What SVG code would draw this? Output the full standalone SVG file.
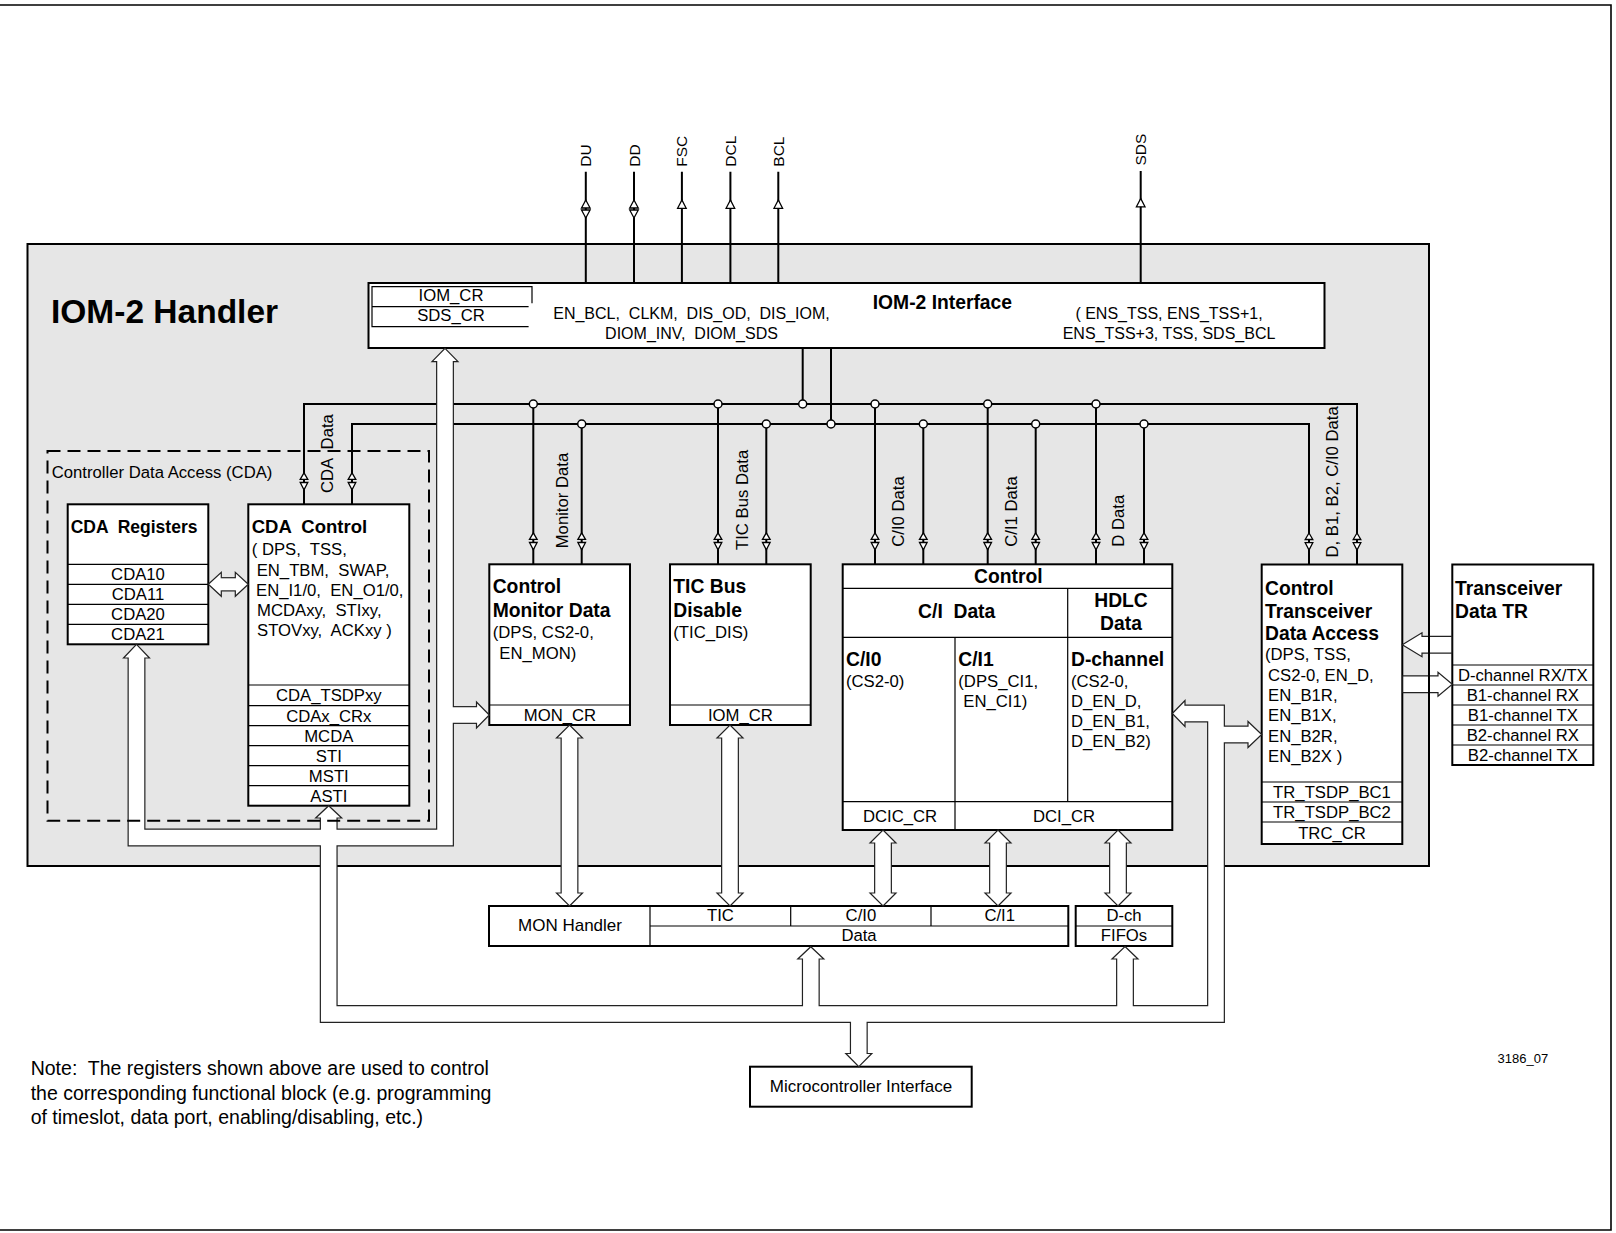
<svg xmlns="http://www.w3.org/2000/svg" width="1616" height="1233" viewBox="0 0 1616 1233" xml:space="preserve">
<defs>
<style>
.t{font-family:"Liberation Sans",Arial,Helvetica,sans-serif;font-size:16.7px;fill:#000;white-space:pre}
.b{font-weight:bold;font-size:19.3px}
.m{text-anchor:middle}
.s16{font-size:16px}
.sig{font-size:15.5px}
.box{fill:#fff;stroke:#000;stroke-width:2}
.thin{fill:none;stroke:#000;stroke-width:1.2}
.ln{fill:none;stroke:#000;stroke-width:2}
.dot{fill:#fff;stroke:#000;stroke-width:1.5}
.ah{fill:#fff;stroke:#000;stroke-width:1.3}
.busd{fill:none;stroke:#222;stroke-width:17.9;stroke-linejoin:miter;stroke-linecap:butt}
.busw{fill:none;stroke:#fff;stroke-width:15.5;stroke-linejoin:miter;stroke-linecap:butt}
.bh{fill:#fff;stroke:#222;stroke-width:1.2;stroke-linejoin:miter}
</style>
<g id="dbl"><polygon class="ah" points="0,-31.5 -3.8,-25 3.8,-25"/><polygon class="ah" points="-3.8,-21.8 3.8,-21.8 0,-14.5"/></g>
<g id="sdbl"><polygon class="ah" points="0,0 -4.3,8 4.3,8"/><polygon class="ah" points="-4.3,10 4.3,10 0,18"/></g>
<polygon id="sup" class="ah" points="0,0 -4.3,8.3 4.3,8.3"/>
</defs>

<g id="page-frame" class="ln" style="stroke-width:1.6">
<path d="M0,5 H1611 V1230 H0"/>
</g>

<g id="iom2-handler">
<rect x="27.5" y="244" width="1401.5" height="622" fill="#e6e6e6" stroke="#000" stroke-width="2"/>
<text class="t b" x="51" y="322.7" style="font-size:33.5px">IOM-2 Handler</text>
<text class="t" x="51.7" y="478.3">Controller Data Access (CDA)</text>
</g>

<g id="iom2-interface">
<rect class="box" x="368.5" y="283" width="956" height="65"/>
<path class="thin" d="M532,303.3 V286.7 H372 V326.7 H528.6 M372,306.7 H528.6"/>
<text class="t m" x="451" y="301">IOM_CR</text>
<text class="t m" x="451" y="321">SDS_CR</text>
<text class="t m s16" x="691.5" y="319.3">EN_BCL,  CLKM,  DIS_OD,  DIS_IOM,</text>
<text class="t m s16" x="691.5" y="339">DIOM_INV,  DIOM_SDS</text>
<text class="t b m" x="942.4" y="309.3">IOM-2 Interface</text>
<text class="t m s16" x="1169" y="319.3">( ENS_TSS, ENS_TSS+1,</text>
<text class="t m s16" x="1169" y="339">ENS_TSS+3, TSS, SDS_BCL</text>
</g>

<g id="cda-registers">
<rect class="box" x="67.7" y="504.3" width="140.6" height="140"/>
<path class="thin" d="M67.7,564.3 H208.3 M67.7,584.3 H208.3 M67.7,604.3 H208.3 M67.7,624.3 H208.3"/>
<text class="t b" x="70.7" y="533.3" style="font-size:17.5px">CDA  Registers</text>
<text class="t m" x="138" y="580.3">CDA10</text>
<text class="t m" x="138" y="600.3">CDA11</text>
<text class="t m" x="138" y="620.3">CDA20</text>
<text class="t m" x="138" y="640.3">CDA21</text>
</g>

<g id="cda-control">
<rect class="box" x="248.3" y="504.3" width="161" height="301.4"/>
<path class="thin" d="M248.3,685 H409.3 M248.3,705.7 H409.3 M248.3,725.7 H409.3 M248.3,745.7 H409.3 M248.3,765.7 H409.3 M248.3,785.7 H409.3"/>
<text class="t b" x="251.7" y="533.3" style="font-size:18.5px">CDA  Control</text>
<text class="t" x="251.7" y="555">( DPS,  TSS,</text>
<text class="t" x="256.7" y="575.7">EN_TBM,  SWAP,</text>
<text class="t" x="256" y="595.7">EN_I1/0,  EN_O1/0,</text>
<text class="t" x="257" y="615.7">MCDAxy,  STIxy,</text>
<text class="t" x="257" y="635.7">STOVxy,  ACKxy )</text>
<text class="t m" x="328.8" y="701">CDA_TSDPxy</text>
<text class="t m" x="328.8" y="721.7">CDAx_CRx</text>
<text class="t m" x="328.8" y="741.7">MCDA</text>
<text class="t m" x="328.8" y="761.7">STI</text>
<text class="t m" x="328.8" y="781.7">MSTI</text>
<text class="t m" x="328.8" y="801.7">ASTI</text>
</g>

<g id="control-monitor-data">
<rect class="box" x="489.3" y="564.3" width="140.7" height="160.7"/>
<path class="thin" d="M489.3,705 H630"/>
<text class="t b" x="492.7" y="593.3">Control</text>
<text class="t b" x="492.7" y="616.7">Monitor Data</text>
<text class="t" x="492.7" y="638.3">(DPS, CS2-0,</text>
<text class="t" x="499.3" y="659">EN_MON)</text>
<text class="t m" x="560" y="721">MON_CR</text>
</g>

<g id="tic-bus-disable">
<rect class="box" x="670" y="564.3" width="140.7" height="160.7"/>
<path class="thin" d="M670,705 H810.7"/>
<text class="t b" x="673.3" y="593.3">TIC Bus</text>
<text class="t b" x="673.3" y="616.7">Disable</text>
<text class="t" x="673.3" y="638.3">(TIC_DIS)</text>
<text class="t m" x="740.4" y="721">IOM_CR</text>
</g>

<g id="control-ci-hdlc">
<rect class="box" x="842.7" y="564.3" width="329.6" height="265.7"/>
<path class="thin" d="M842.7,588.3 H1172.3 M842.7,637.3 H1172.3 M1067.7,588.3 V801.7 M955,637.3 V830 M842.7,801.7 H1172.3"/>
<text class="t b m" x="1008.3" y="582.7">Control</text>
<text class="t b m" x="956.7" y="618.3">C/I  Data</text>
<text class="t b m" x="1121" y="606.7">HDLC</text>
<text class="t b m" x="1121" y="630">Data</text>
<text class="t b" x="846" y="665.7">C/I0</text>
<text class="t" x="846" y="687.3">(CS2-0)</text>
<text class="t b" x="958.3" y="665.7">C/I1</text>
<text class="t" x="958.3" y="687.3">(DPS_CI1,</text>
<text class="t" x="963.3" y="707.3">EN_CI1)</text>
<text class="t b" x="1071" y="665.7">D-channel</text>
<text class="t" x="1071" y="687.3">(CS2-0,</text>
<text class="t" x="1071" y="707.3">D_EN_D,</text>
<text class="t" x="1071" y="727.3">D_EN_B1,</text>
<text class="t" x="1071" y="747.3">D_EN_B2)</text>
<text class="t m" x="900" y="821.7">DCIC_CR</text>
<text class="t m" x="1064" y="821.7">DCI_CR</text>
</g>

<g id="control-transceiver-data-access">
<rect class="box" x="1261.7" y="564.5" width="140.6" height="279.5"/>
<path class="thin" d="M1261.7,782 H1402.3 M1261.7,802 H1402.3 M1261.7,822 H1402.3"/>
<text class="t b" x="1265" y="595">Control</text>
<text class="t b" x="1265" y="617.5">Transceiver</text>
<text class="t b" x="1265" y="640">Data Access</text>
<text class="t" x="1265" y="660">(DPS, TSS,</text>
<text class="t" x="1268" y="680.5">CS2-0, EN_D,</text>
<text class="t" x="1268" y="700.5">EN_B1R,</text>
<text class="t" x="1268" y="721">EN_B1X,</text>
<text class="t" x="1268" y="741.5">EN_B2R,</text>
<text class="t" x="1268" y="762">EN_B2X )</text>
<text class="t m" x="1332" y="798">TR_TSDP_BC1</text>
<text class="t m" x="1332" y="818">TR_TSDP_BC2</text>
<text class="t m" x="1332" y="838.5">TRC_CR</text>
</g>

<g id="transceiver-data-tr">
<rect class="box" x="1452.3" y="564.5" width="141" height="200.5"/>
<path class="thin" d="M1452.3,665 H1593.3 M1452.3,685 H1593.3 M1452.3,705 H1593.3 M1452.3,725 H1593.3 M1452.3,745 H1593.3"/>
<text class="t b" x="1455" y="595">Transceiver</text>
<text class="t b" x="1455" y="617.5">Data TR</text>
<text class="t m" x="1522.8" y="681">D-channel RX/TX</text>
<text class="t m" x="1522.8" y="701">B1-channel RX</text>
<text class="t m" x="1522.8" y="721">B1-channel TX</text>
<text class="t m" x="1522.8" y="741">B2-channel RX</text>
<text class="t m" x="1522.8" y="761">B2-channel TX</text>
</g>

<g id="mon-handler-data">
<rect class="box" x="489" y="906" width="579.3" height="40"/>
<path class="thin" d="M650,906 V946 M650,926 H1068.3 M790.7,906 V926 M931,906 V926"/>
<text class="t m" x="570" y="931" style="font-size:17px">MON Handler</text>
<text class="t m" x="720.4" y="920.5">TIC</text>
<text class="t m" x="860.9" y="920.5">C/I0</text>
<text class="t m" x="999.7" y="920.5">C/I1</text>
<text class="t m" x="859" y="940.5">Data</text>
</g>

<g id="dch-fifos">
<rect class="box" x="1075.7" y="906" width="96.6" height="40"/>
<path class="thin" d="M1075.7,926 H1172.3"/>
<text class="t m" x="1124" y="920.5">D-ch</text>
<text class="t m" x="1124" y="940.5">FIFOs</text>
</g>

<g id="microcontroller-interface">
<rect class="box" x="750" y="1066.7" width="221.7" height="40"/>
<text class="t m" x="861" y="1092" style="font-size:17px">Microcontroller Interface</text>
</g>

<g id="connectors">
<g id="signal-pins">
<path class="ln" d="M585.8,171.7 V283 M634,171.7 V283 M681.9,171.7 V283 M730.4,171.7 V283 M778.3,171.7 V283 M1140.7,171 V283"/>
<use href="#sdbl" x="585.8" y="200"/>
<use href="#sdbl" x="634" y="200"/>
<use href="#sup" x="681.9" y="200"/>
<use href="#sup" x="730.4" y="200"/>
<use href="#sup" x="778.3" y="200"/>
<use href="#sup" x="1140.7" y="198.5"/>
<text class="t sig" transform="translate(591.3,166.7) rotate(-90)">DU</text>
<text class="t sig" transform="translate(639.5,166.7) rotate(-90)">DD</text>
<text class="t sig" transform="translate(687.4,166.7) rotate(-90)">FSC</text>
<text class="t sig" transform="translate(735.9,166.7) rotate(-90)">DCL</text>
<text class="t sig" transform="translate(783.8,166.7) rotate(-90)">BCL</text>
<text class="t sig" transform="translate(1146.2,165.5) rotate(-90)">SDS</text>
</g>
<g id="internal-bus">
<path class="ln" d="M304,504.3 V404 H1357 V564.3 M352,504.3 V424 H1309 V564.3 M802.7,348 V404 M831,348 V424"/>
<path class="ln" d="M533.3,404 V564.3 M581.7,424 V564.3 M718,404 V564.3 M766.3,424 V564.3 M875,404 V564.3 M923.3,424 V564.3 M987.7,404 V564.3 M1035.7,424 V564.3 M1096,404 V564.3 M1144,424 V564.3"/>
<circle class="dot" cx="533.3" cy="404" r="4"/>
<circle class="dot" cx="718" cy="404" r="4"/>
<circle class="dot" cx="802.7" cy="404" r="4"/>
<circle class="dot" cx="875" cy="404" r="4"/>
<circle class="dot" cx="987.7" cy="404" r="4"/>
<circle class="dot" cx="1096" cy="404" r="4"/>
<circle class="dot" cx="581.7" cy="424" r="4"/>
<circle class="dot" cx="766.3" cy="424" r="4"/>
<circle class="dot" cx="831" cy="424" r="4"/>
<circle class="dot" cx="923.3" cy="424" r="4"/>
<circle class="dot" cx="1035.7" cy="424" r="4"/>
<circle class="dot" cx="1144" cy="424" r="4"/>
<use href="#dbl" x="304" y="504.3"/>
<use href="#dbl" x="352" y="504.3"/>
<use href="#dbl" x="533.3" y="564.3"/>
<use href="#dbl" x="581.7" y="564.3"/>
<use href="#dbl" x="718" y="564.3"/>
<use href="#dbl" x="766.3" y="564.3"/>
<use href="#dbl" x="875" y="564.3"/>
<use href="#dbl" x="923.3" y="564.3"/>
<use href="#dbl" x="987.7" y="564.3"/>
<use href="#dbl" x="1035.7" y="564.3"/>
<use href="#dbl" x="1096" y="564.3"/>
<use href="#dbl" x="1144" y="564.3"/>
<use href="#dbl" x="1309" y="564.5"/>
<use href="#dbl" x="1357" y="564.5"/>
<text class="t" transform="translate(333,493) rotate(-90)">CDA  Data</text>
<text class="t" transform="translate(567.5,548.3) rotate(-90)">Monitor Data</text>
<text class="t" transform="translate(747.5,550) rotate(-90)">TIC Bus Data</text>
<text class="t" transform="translate(904,546.7) rotate(-90)">C/I0 Data</text>
<text class="t" transform="translate(1016.5,546.7) rotate(-90)">C/I1 Data</text>
<text class="t" transform="translate(1124,546.7) rotate(-90)">D Data</text>
<text class="t" transform="translate(1337.5,557.5) rotate(-90)">D, B1, B2, C/I0 Data</text>
</g>
<g id="data-buses">
<path class="busd" d="M136.5,658 V837.5 H445 V361.7"/>
<path class="busd" d="M445,715 H476.5"/>
<path class="busd" d="M1185,713.5 H1216 V1014 H328.7 V818"/>
<path class="busd" d="M810.8,1014 V959 M1125,1014 V959 M858.8,1014 V1053.5 M1216,734.5 H1248"/>
<path class="busd" d="M569.5,738 V893 M730,738 V893 M883,843 V893 M998,843 V893 M1118,843 V893"/>
<path class="busd" d="M1422,644.8 H1452.3 M1402.3,684.3 H1438"/>
<path class="busd" style="stroke-width:14.4" d="M221.3,584.3 H235.3"/>
<polygon class="bh" points="136.5,644.3 149.5,658 123.5,658"/>
<polygon class="bh" points="445,348.3 458,361.7 432,361.7"/>
<polygon class="bh" points="489.3,715 476.5,702 476.5,728"/>
<polygon class="bh" points="328.7,805.7 341.7,818 315.7,818"/>
<polygon class="bh" points="1172.3,713.5 1185,700.5 1185,726.5"/>
<polygon class="bh" points="1261.7,734.5 1248,721.5 1248,747.5"/>
<polygon class="bh" points="810.8,946.7 823.8,959 797.8,959"/>
<polygon class="bh" points="1125,946.5 1138,959 1112,959"/>
<polygon class="bh" points="858.8,1066.7 871.8,1053.5 845.8,1053.5"/>
<polygon class="bh" points="569.5,725 582.5,738 556.5,738"/>
<polygon class="bh" points="569.5,906 582.5,893 556.5,893"/>
<polygon class="bh" points="730,725 743,738 717,738"/>
<polygon class="bh" points="730,906 743,893 717,893"/>
<polygon class="bh" points="883,830 896,843 870,843"/>
<polygon class="bh" points="883,906 896,893 870,893"/>
<polygon class="bh" points="998,830 1011,843 985,843"/>
<polygon class="bh" points="998,906 1011,893 985,893"/>
<polygon class="bh" points="1118,830 1131,843 1105,843"/>
<polygon class="bh" points="1118,906 1131,893 1105,893"/>
<polygon class="bh" points="1402.3,644.8 1422,632.8 1422,656.8"/>
<polygon class="bh" points="1452.3,684.3 1438,672.3 1438,696.3"/>
<polygon class="bh" points="208.3,584.3 221.3,572.3 221.3,596.3"/>
<polygon class="bh" points="248.3,584.3 235.3,572.3 235.3,596.3"/>
<path class="busw" d="M136.5,656 V837.5 H445 V359.7"/>
<path class="busw" d="M445,715 H478.5"/>
<path class="busw" d="M1183,713.5 H1216 V1014 H328.7 V816"/>
<path class="busw" d="M810.8,1014 V957 M1125,1014 V957 M858.8,1014 V1055.5 M1216,734.5 H1250"/>
<path class="busw" d="M569.5,736 V895 M730,736 V895 M883,841 V895 M998,841 V895 M1118,841 V895"/>
<path class="busw" d="M1420,644.8 H1451.2 M1403.3,684.3 H1440"/>
<path class="busw" style="stroke-width:12" d="M219.3,584.3 H237.3"/>
<path class="ln" d="M1429,630 V700"/>
</g>
</g>

<g id="cda-boundary">
<rect x="47.5" y="451" width="381.5" height="369.7" fill="none" stroke="#000" stroke-width="2" stroke-dasharray="13 7"/>
</g>

<g id="notes">
<text class="t" x="30.7" y="1075" style="font-size:19.5px">Note:  The registers shown above are used to control</text>
<text class="t" x="30.7" y="1099.5" style="font-size:19.5px">the corresponding functional block (e.g. programming</text>
<text class="t" x="30.7" y="1124" style="font-size:19.5px">of timeslot, data port, enabling/disabling, etc.)</text>
<text class="t" x="1497.5" y="1063" style="font-size:13px">3186_07</text>
</g>
</svg>
